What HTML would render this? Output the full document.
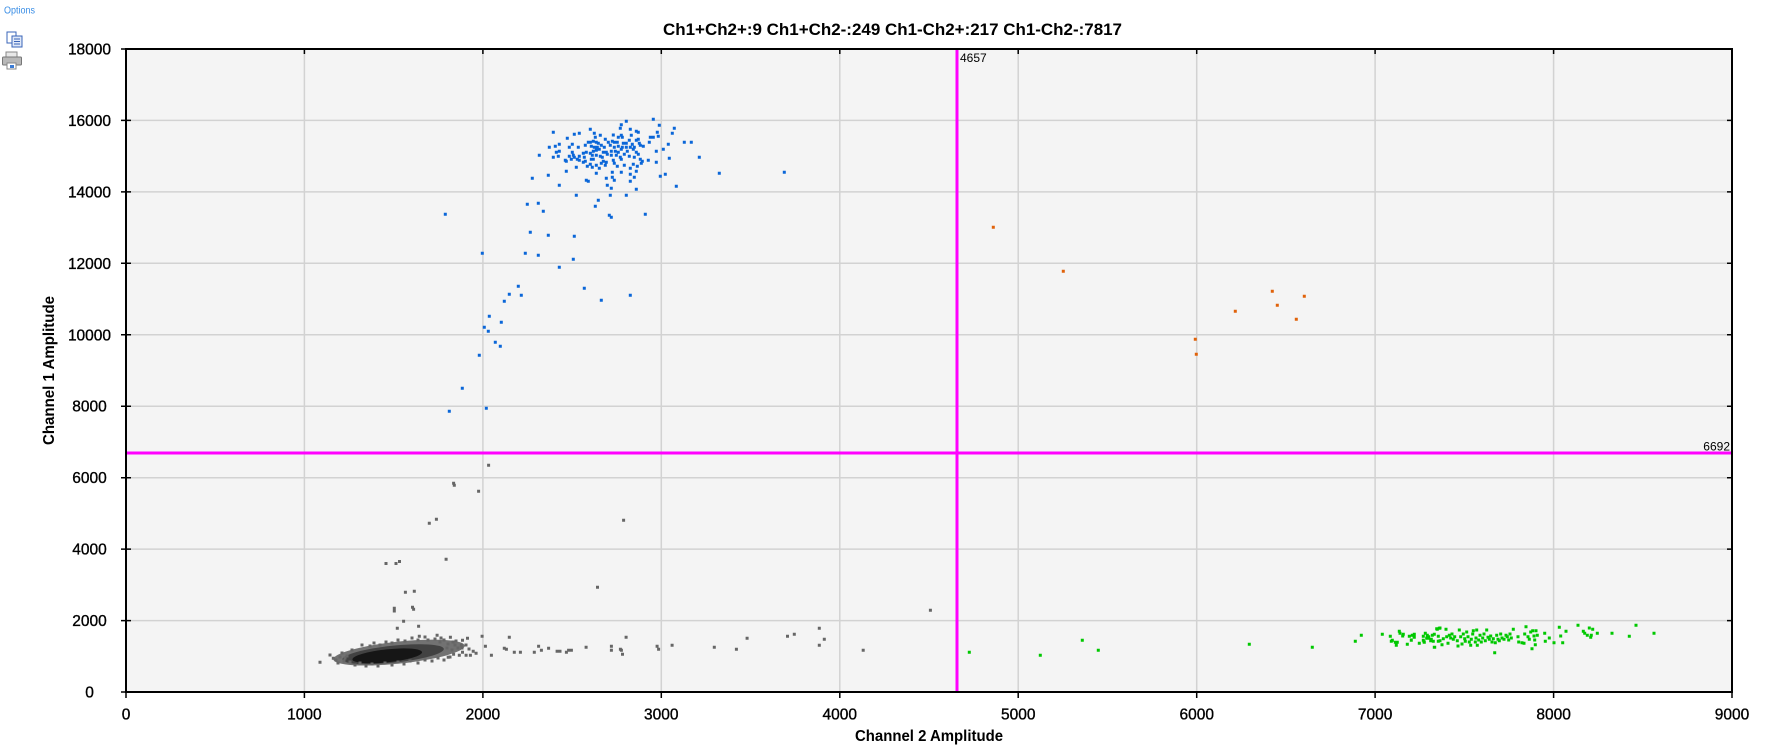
<!DOCTYPE html>
<html><head><meta charset="utf-8"><style>
html,body{margin:0;padding:0;background:#fff;}
svg{display:block;}
text{font-family:"Liberation Sans",Arial,sans-serif;}
</style></head><body>
<svg width="1769" height="756" viewBox="0 0 1769 756" xmlns="http://www.w3.org/2000/svg">
<rect x="0" y="0" width="1769" height="756" fill="#fff"/>
<!-- Options + icons -->
<text x="4" y="13.5" font-size="10" fill="#3a8ee6" textLength="31" lengthAdjust="spacingAndGlyphs">Options</text>
<g>
<rect x="7" y="32" width="9" height="11" fill="#fff" stroke="#3a64b8" stroke-width="1"/>
<rect x="12" y="36" width="10" height="11" fill="#dfe8f8" stroke="#3a64b8" stroke-width="1"/>
<path d="M14 39h6M14 41.5h6M14 44h6" stroke="#3a64b8" stroke-width="1"/>
<rect x="6" y="52" width="11" height="5" fill="#e8e8e8" stroke="#888" stroke-width="1"/>
<rect x="2.5" y="57" width="19" height="8" rx="1" fill="#b8b8b8" stroke="#777" stroke-width="1"/>
<rect x="7" y="63" width="9" height="6" fill="#fff" stroke="#888" stroke-width="1"/>
<rect x="10" y="65" width="4" height="3" fill="#3a7bd5"/>
</g>
<!-- title -->
<text x="663" y="35" font-size="17" font-weight="bold" fill="#000" textLength="459" lengthAdjust="spacingAndGlyphs">Ch1+Ch2+:9 Ch1+Ch2-:249 Ch1-Ch2+:217 Ch1-Ch2-:7817</text>
<!-- plot bg -->
<rect x="126" y="49" width="1606" height="643" fill="#f4f4f4"/>
<!-- grid -->
<g stroke="#d2d2d2" stroke-width="1.5">
<path d="M304.4 49V692M482.9 49V692M661.3 49V692M839.8 49V692M1018.2 49V692M1196.7 49V692M1375.1 49V692M1553.6 49V692"/>
<path d="M126 620.6H1732M126 549.1H1732M126 477.7H1732M126 406.2H1732M126 334.8H1732M126 263.3H1732M126 191.9H1732M126 120.4H1732"/>
</g>
<!-- gray dense cluster -->
<g transform="rotate(-6 395 653)">
<ellipse cx="399" cy="653" rx="66" ry="11" fill="#727272"/>
<ellipse cx="393" cy="654" rx="51" ry="8.5" fill="#424242"/>
<ellipse cx="387" cy="655" rx="35" ry="6.5" fill="#161616"/>
</g>
<!-- gray points -->
<path transform="translate(-1.5 0)" stroke="#666" stroke-width="3" fill="none" d="M488.6 465.3h3M453.6 483.3h3M454.3 485.3h3M478.6 491.3h3M429.3 523.3h3M436.4 519.3h3M623.6 520.3h3M446.1 559.3h3M386 563.5h3M396 563.5h3M399.5 561.5h3M597.5 587.3h3M405.4 592.3h3M414.3 591.3h3M412.5 607.3h3M413.6 609.3h3M394.3 608.3h3M394.3 611h3M930.4 610.3h3M403.6 621.3h3M418.6 626.3h3M397.3 628.3h3M819.3 628.3h3M794.3 634.3h3M787.5 636.3h3M747.1 638.3h3M824.3 639.3h3M626.1 637.3h3M509.3 637.3h3M482.1 636.3h3M467.5 638.3h3M462.5 640.3h3M450.4 637.3h3M437.1 635.3h3M419.3 636.3h3M672.1 645.3h3M714.3 647.3h3M736.4 649.3h3M819.3 645.3h3M863.2 650.3h3M657.1 646.3h3M658.6 649.3h3M611.4 646.3h3M611.4 650.3h3M620.4 649.3h3M621.4 650.3h3M622.5 654.3h3M586.1 647.3h3M566.4 652.3h3M568.6 650.3h3M571.4 650.3h3M557.1 651.3h3M560 651.3h3M548.6 648.3h3M541.4 650.3h3M538.6 646.3h3M534.3 652.3h3M520.4 652.3h3M514.3 652.3h3M504.3 648.3h3M506.4 649.3h3M491.4 655.3h3M485.4 646.3h3M476.1 653.3h3M473.2 651.3h3M470.4 655.3h3M466.1 655.3h3M462.5 652.3h3M459.3 655.3h3M453.6 654.3h3M448.2 657.3h3M461.3 645.3h3M320 662.3h3M330 655h3M333.3 658.3h3M336 660h3M340 657h3M344 661h3M347 656h3M350 662h3M345 658h3M455 645h3M458 648h3M456 641h3M452 650h3M448 644h3M444 640h3M440 642h3M447 648h3M370 646h3M380 645h3M392 643h3M405 641h3M418 640h3M428 640h3M435 639h3M360 663h3M372 664h3M385 663h3M398 662h3M410 661h3M425 660h3M438 658h3M450 657h3M338 663h3M355 665h3M366 666h3M378 666h3M392 665h3M404 664h3M418 663h3M432 661h3M444 660h3M462 648h3M466 645h3M469 649h3M453 642h3M441 638h3M425 637h3M412 638h3M398 640h3M386 642h3M374 643h3M362 645h3M352 650h3M342 653h3"/>
<!-- blue points -->
<path transform="translate(-1.5 0)" stroke="#0a66d8" stroke-width="3" fill="none" d="M653.3 119.3h3M626.3 121.3h3M659.3 125.3h3M621.3 124.7h3M620.3 128.3h3M674.3 128.3h3M553.3 132.3h3M574.3 134.3h3M579.3 133.3h3M594.3 133.3h3M590.3 129.3h3M630.3 129.3h3M636.3 131.3h3M638.3 132.3h3M657.3 132.3h3M672.3 133.3h3M600.3 135.3h3M613.3 135h3M621.3 135.3h3M631.3 135.3h3M567.3 138.3h3M595.3 137.3h3M618.3 137.3h3M622.3 137.3h3M650.3 137.3h3M653.3 137.3h3M658.3 136.3h3M605.3 139.3h3M629.3 140.3h3M636.3 140.3h3M638.3 139.3h3M559.3 144.3h3M572.3 144.3h3M585.3 145.3h3M588.3 142.3h3M590.3 142.3h3M593.3 141.3h3M596.3 142.3h3M598.3 143.3h3M608.3 142.3h3M612.3 141.3h3M614.3 142.3h3M617.3 142.3h3M623.3 143.3h3M626.3 143.3h3M632.3 144.3h3M639.3 143.3h3M649.3 142.3h3M668.3 144.3h3M684.3 142.3h3M691.3 142.3h3M549.3 147.3h3M555.3 146.3h3M569.3 147.3h3M578.3 147.3h3M591.3 146.3h3M594.3 147.3h3M597.3 147.3h3M601.3 145.3h3M604.3 147.3h3M610.3 145.3h3M614.3 147.3h3M618.3 146.3h3M622.3 147.3h3M626.3 147.3h3M630.3 147.3h3M634.3 147.3h3M640.3 145.3h3M643.3 146.3h3M663.3 149.3h3M556.3 152.3h3M559.3 151.3h3M572.3 152.3h3M583.3 153.3h3M586.3 152.3h3M590.3 153.3h3M593.3 151.3h3M596.3 150.3h3M599.3 149.3h3M603.3 152.3h3M606.3 152.3h3M611.3 151.3h3M615.3 151.3h3M618.3 152.3h3M621.3 149.3h3M627.3 151.3h3M633.3 149.3h3M636.3 152.3h3M656.3 151.3h3M539.3 155.3h3M553.3 157.3h3M558.3 156.3h3M569.3 156.3h3M573.3 155.3h3M574.3 157.3h3M579.3 156.3h3M584.3 157.3h3M592.3 155.3h3M596.3 155.3h3M600.3 156.3h3M602.3 157.3h3M607.3 154.3h3M611.3 155.3h3M616.3 155.3h3M620.3 157.3h3M624.3 154.3h3M629.3 156.3h3M634.3 157.3h3M638.3 154.3h3M669.3 158.3h3M699.3 157.3h3M565.3 160.3h3M566.3 161.3h3M571.3 159.3h3M577.3 159.3h3M579.3 160.3h3M583.3 162.3h3M585.3 161.3h3M591.3 159.3h3M593.3 159.3h3M601.3 163.3h3M603.3 161.3h3M606.3 162.3h3M613.3 160.3h3M614.3 163.3h3M621.3 159.3h3M640.3 159.3h3M642.3 161.3h3M648.3 160.3h3M656.3 162.3h3M576.3 167.3h3M587.3 166.3h3M590.3 164.3h3M592.3 167.3h3M596.3 165.3h3M599.3 168.3h3M605.3 165.3h3M617.3 166.3h3M624.3 165.3h3M630.3 168.3h3M633.3 164.3h3M637.3 166.3h3M641.3 163.3h3M532.3 178.3h3M548.3 175.3h3M566.3 171.3h3M596.3 173.3h3M612.3 172.3h3M621.3 172.3h3M630.3 174.3h3M636.3 171.3h3M660.3 176.3h3M665.3 174.3h3M719.3 173.3h3M784.3 172.3h3M586.3 180.3h3M588.3 181.3h3M606.3 178.3h3M612.3 177.3h3M614.3 180.3h3M630.3 181.3h3M634.3 177.3h3M559.3 185.3h3M607.3 185.3h3M611.3 188.3h3M636.3 189.3h3M676.3 186.3h3M576.3 195.3h3M610.3 195.3h3M626.3 195.3h3M598.3 200.3h3M595.3 206.3h3M527.3 204.3h3M538.3 203.3h3M543.3 211.3h3M445.3 214.3h3M609.3 215.3h3M611.3 217.3h3M645.3 214.3h3M530.3 232.3h3M548.3 235.3h3M574.3 236.3h3M482.3 253.3h3M525.3 253.3h3M538.3 255.3h3M573.3 259.3h3M559.3 267.3h3M518.3 286.3h3M584.3 288.3h3M509.3 294.3h3M521.3 295.3h3M630.3 295.3h3M504.3 301.3h3M601.3 300.3h3M489.3 316.3h3M501.3 322.3h3M484.3 327.3h3M488.3 331.3h3M495.3 342.3h3M500.3 346.3h3M479.3 355.3h3M462.3 388.3h3M449.3 411.3h3M486.3 408.3h3"/>
<!-- orange points -->
<path transform="translate(-1.5 0)" stroke="#e0620a" stroke-width="3" fill="none" d="M993.3 227.3h3M1063.3 271.3h3M1272.3 291.3h3M1304.3 296.3h3M1277.3 305.3h3M1235.3 311.3h3M1296.3 319.3h3M1195.3 339.3h3M1196.3 354.3h3"/>
<!-- green points -->
<path transform="translate(-1.5 0)" stroke="#00c800" stroke-width="3" fill="none" d="M969.3 652.3h3M1040.3 655.3h3M1082.3 640.3h3M1098.3 650.3h3M1249.3 644.3h3M1312.3 647.3h3M1355.3 641.3h3M1361.3 635.3h3M1382.3 634.3h3M1390.3 636.3h3M1399.3 631.3h3M1403.3 634.3h3M1392.3 640.3h3M1391.3 641.3h3M1395.3 642.3h3M1397.3 642.3h3M1396.3 645.3h3M1407.3 644.3h3M1411.3 640.3h3M1409.3 636.3h3M1412.3 635.3h3M1414.3 634.3h3M1414.3 637.3h3M1419.3 643.3h3M1423.3 636.3h3M1423.3 640.3h3M1424.3 642.3h3M1425.3 633.3h3M1427.3 635.3h3M1428.3 638.3h3M1431.3 639.3h3M1432.3 635.3h3M1433.3 641.3h3M1434.3 634.3h3M1434.3 647.3h3M1437.3 629.3h3M1438.3 636.3h3M1439.3 628.3h3M1438.3 641.3h3M1400 633.3h3M1402.7 636h3M1407.3 644.3h3M1411.3 640h3M1414 636h3M1419.3 643.3h3M1424 641.7h3M1426.7 638.3h3M1428.7 636.7h3M1430.7 640.7h3M1434.7 647.3h3M1436.7 628.7h3M1440 628h3M1440 640.7h3M1442 644.7h3M1443.3 638.7h3M1446 629.3h3M1446.7 636.7h3M1448 643.3h3M1449.3 635.3h3M1450.7 638h3M1452 634h3M1453.3 639.3h3M1454.7 636.7h3M1457.3 640.7h3M1458 646h3M1459.3 630h3M1460.7 636.7h3M1462 644h3M1463.3 634h3M1464.7 638.7h3M1465.3 641.3h3M1466.7 632h3M1468 636.7h3M1469.3 642h3M1470.7 645.3h3M1471.3 639.3h3M1472.7 634h3M1473.3 630.7h3M1475.3 642h3M1476 638h3M1476.7 630h3M1477.3 645.3h3M1478.7 640h3M1480 635.3h3M1481.3 642h3M1482.7 638h3M1484 634h3M1485.3 640.7h3M1486.7 630h3M1488 637.3h3M1489.3 639.3h3M1490.7 636h3M1492 642h3M1493.3 638.7h3M1494.7 652.7h3M1495.3 642.7h3M1496.7 635.3h3M1498 639.3h3M1499.3 640.7h3M1500.7 634h3M1502 638h3M1504 639.3h3M1506 635.3h3M1507.3 636.7h3M1508.7 640h3M1510 634h3M1511.3 638h3M1513.3 629.3h3M1518 636.7h3M1518.7 642h3M1522 642.7h3M1524 643.3h3M1524.7 634h3M1526 626.7h3M1528 636.7h3M1529.3 639.3h3M1530.7 632h3M1532 648.7h3M1532.7 630.7h3M1534 636h3M1534.7 640h3M1535.3 644.7h3M1536 630.7h3M1537.3 635.3h3M1544.7 633.3h3M1545.3 641.3h3M1549.3 638h3M1554 642.7h3M1559.3 627.3h3M1560.7 636h3M1562.7 642.7h3M1566 631.3h3M1578 625.3h3M1583.3 631.3h3M1584.7 633.3h3M1587.3 635.3h3M1589.3 628h3M1590.7 637.3h3M1591.3 635.3h3M1592.7 629.3h3M1597.3 633.3h3M1612 633.3h3M1629.3 636.3h3M1636 625.3h3M1654 633.3h3"/>
<!-- threshold lines -->
<rect x="955.5" y="49" width="3" height="643" fill="#ff00ff"/>
<rect x="126" y="451.5" width="1606" height="3" fill="#ff00ff"/>
<text x="960" y="62" font-size="12" fill="#000">4657</text>
<text x="1730" y="450.5" font-size="12" fill="#000" text-anchor="end">6692</text>
<!-- frame -->
<rect x="126" y="49" width="1606" height="643" fill="none" stroke="#000" stroke-width="2"/>
<!-- ticks -->
<g stroke="#000" stroke-width="1.5">
<path d="M121 692H131M121 620.6H131M121 549.1H131M121 477.7H131M121 406.2H131M121 334.8H131M121 263.3H131M121 191.9H131M121 120.4H131M121 49H131"/>
<path d="M1727 620.6H1732M1727 549.1H1732M1727 477.7H1732M1727 406.2H1732M1727 334.8H1732M1727 263.3H1732M1727 191.9H1732M1727 120.4H1732"/>
<path d="M126 692V698M304.4 692V698M482.9 692V698M661.3 692V698M839.8 692V698M1018.2 692V698M1196.7 692V698M1375.1 692V698M1553.6 692V698M1732 692V698"/>
<path d="M304.4 49V54M482.9 49V54M661.3 49V54M839.8 49V54M1018.2 49V54M1196.7 49V54M1375.1 49V54M1553.6 49V54"/>
</g>
<!-- y tick labels -->
<g font-size="15.5" fill="#000" stroke="#000" stroke-width="0.35" text-anchor="middle">
<text x="89.5" y="697.5">0</text>
<text x="89.5" y="626.1">2000</text>
<text x="89.5" y="554.6">4000</text>
<text x="89.5" y="483.2">6000</text>
<text x="89.5" y="411.7">8000</text>
<text x="89.5" y="340.3">10000</text>
<text x="89.5" y="268.8">12000</text>
<text x="89.5" y="197.4">14000</text>
<text x="89.5" y="125.9">16000</text>
<text x="89.5" y="54.5">18000</text>
</g>
<!-- x tick labels -->
<g font-size="15.5" fill="#000" stroke="#000" stroke-width="0.35" text-anchor="middle">
<text x="126" y="719.5">0</text>
<text x="304.4" y="719.5">1000</text>
<text x="482.9" y="719.5">2000</text>
<text x="661.3" y="719.5">3000</text>
<text x="839.8" y="719.5">4000</text>
<text x="1018.2" y="719.5">5000</text>
<text x="1196.7" y="719.5">6000</text>
<text x="1375.1" y="719.5">7000</text>
<text x="1553.6" y="719.5">8000</text>
<text x="1732" y="719.5">9000</text>
</g>
<!-- axis titles -->
<text x="855" y="741" font-size="16" font-weight="bold" fill="#000" textLength="148" lengthAdjust="spacingAndGlyphs">Channel 2 Amplitude</text>
<text transform="translate(54 445) rotate(-90)" x="0" y="0" font-size="16" font-weight="bold" fill="#000" textLength="149" lengthAdjust="spacingAndGlyphs">Channel 1 Amplitude</text>
</svg>
</body></html>
